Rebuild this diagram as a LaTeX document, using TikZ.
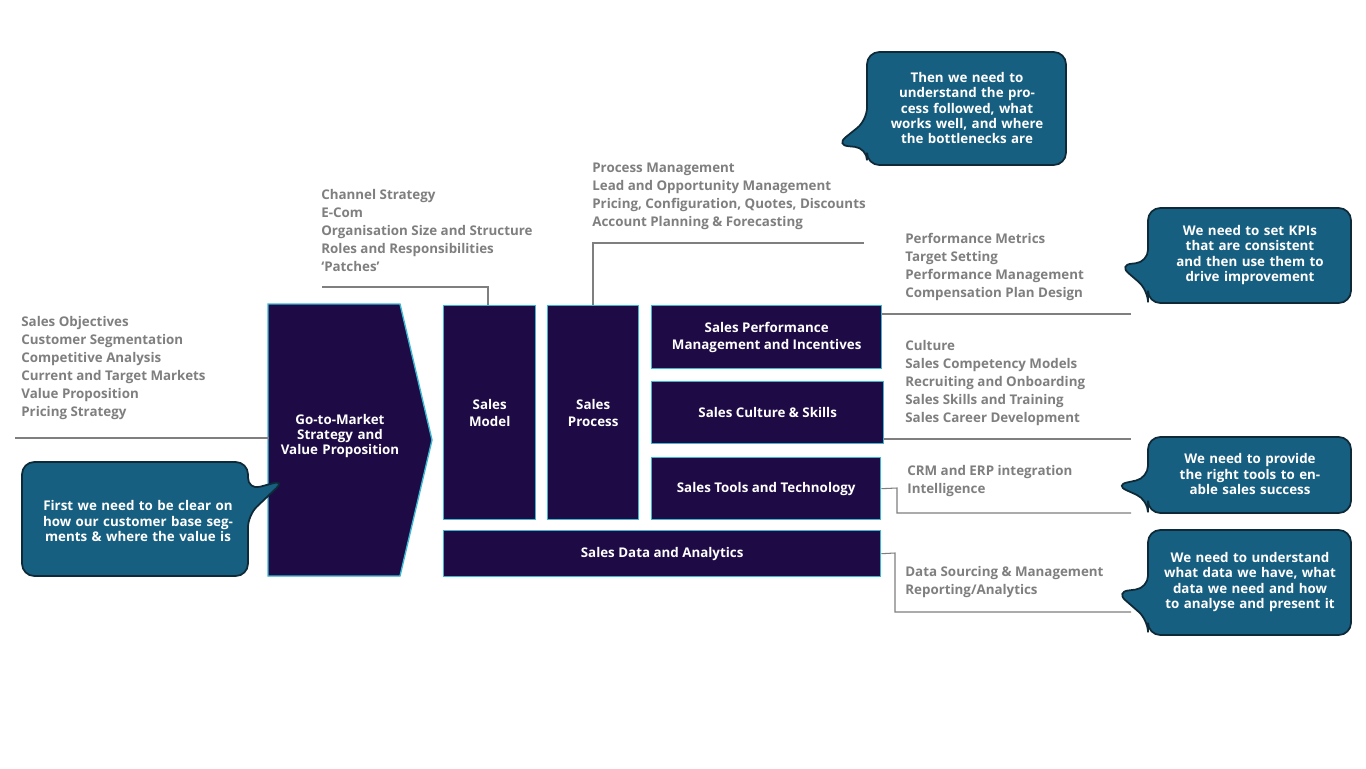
\documentclass[tikz,border=0pt]{standalone}
\usepackage{fontspec}
\setmainfont{Open Sans}
\usepackage{tikz}
\usetikzlibrary{positioning}
\definecolor{boxpurple}{HTML}{1E0A45}
\definecolor{boxcyan}{HTML}{3BB8D0}
\definecolor{calloutteal}{HTML}{175F80}
\definecolor{calloutedge}{HTML}{0E2A38}
\definecolor{listgray}{HTML}{7F7F7F}
\tikzset{
  block/.style={draw=boxcyan, fill=boxpurple, line width=0.8pt, text=white, font=\bfseries\fontsize{7.6}{9.6}\selectfont, align=center},
  list/.style={anchor=north west, inner sep=0pt, text=listgray, font=\bfseries\fontsize{7.6}{10.2}\selectfont, align=left},
  link/.style={draw=listgray, line width=0.6pt},
  callout/.style={fill=calloutteal, draw=calloutedge, line width=1pt, rounded corners=7pt},
  calltext/.style={text=white, font=\bfseries\fontsize{7.6}{8.6}\selectfont, align=center}
}
\begin{document}
\begin{tikzpicture}[x=0.02cm, y=-0.02cm]
		\useasboundingbox[fill=white] (0,0) rectangle (1366,768);
		% main blocks
		\draw[block] (268,304) -- (400,304) -- (432,440) -- (400,576) -- (268,576) -- cycle;
		\node (gtm) [calltext, text width=2.6cm] at (340,436) {Go-to-Market Strategy and Value Proposition};
		\node (model) [block, minimum width=1.84cm, minimum height=4.28cm, anchor=north west] at (443,305) {Sales\\Model};
		\node (process) [block, minimum width=1.82cm, minimum height=4.28cm, anchor=north west] at (547,305) {Sales\\Process};
		\node (perf) [block, minimum width=4.6cm, minimum height=1.26cm, anchor=north west] at (651,305) {Sales Performance\\Management and Incentives};
		\node (culture) [block, minimum width=4.64cm, minimum height=1.24cm, anchor=north west] at (651,381) {Sales Culture \& Skills};
		\node (tools) [block, minimum width=4.58cm, minimum height=1.24cm, anchor=north west] at (651,457) {Sales Tools and Technology};
		\node (data) [block, minimum width=8.74cm, minimum height=0.92cm, anchor=north west] at (443,530) {Sales Data and Analytics};
		% lists
		\node (gtmlist) [list] at (21,316) {Sales Objectives\\Customer Segmentation\\Competitive Analysis\\Current and Target Markets\\Value Proposition\\Pricing Strategy};
		\node (modellist) [list] at (321,189) {Channel Strategy\\E-Com\\Organisation Size and Structure\\Roles and Responsibilities\\‘Patches’};
		\node (processlist) [list] at (592,163) {Process Management\\Lead and Opportunity Management\\Pricing, Configuration, Quotes, Discounts\\Account Planning \& Forecasting};
		\node (perflist) [list] at (905,233) {Performance Metrics\\Target Setting\\Performance Management\\Compensation Plan Design};
		\node (culturelist) [list] at (905,340) {Culture\\Sales Competency Models\\Recruiting and Onboarding\\Sales Skills and Training\\Sales Career Development};
		\node (toolslist) [list] at (907,465) {CRM and ERP integration\\Intelligence};
		\node (datalist) [list] at (905,566) {Data Sourcing \& Management\\Reporting/Analytics};
		% connectors
		\coordinate (gtmend) at (15,438);
		\draw[link] (gtmend) -- (gtmend -| gtm.west) -- (268,438);
		\coordinate (modelend) at (322,287);
		\draw[link] (modelend) -- (488,287) -- (model.north -| 488,0);
		\coordinate (processend) at (864,243);
		\draw[link] (process.north -| 593,0) -- (593,243) -- (processend);
		\coordinate (perfend) at (1131,314);
		\draw[link] (perf.east |- perfend) -- (perfend);
		\coordinate (cultureend) at (1131,439);
		\draw[link] (culture.east |- cultureend) -- (cultureend);
		\coordinate (toolsend) at (1131,513);
		\draw[link] (tools.east) -- (897,488) -- (897,513) -- (toolsend);
		\coordinate (dataend) at (1131,612);
		\draw[link] (data.east) -- (895,553) -- (895,612) -- (dataend);
		% callouts
		\draw[callout] (867,52) -- (1066,52) -- (1066,165) -- (867,165) -- (867,148) -- (836,145) -- (867,120) -- cycle;
		\node (process_note) [calltext, text width=3.3cm] at (967,108) {Then we need to understand the process followed, what works well, and where the bottlenecks are};
		\draw[callout] (1148,208) -- (1351,208) -- (1351,303) -- (1148,303) -- (1148,290) -- (1119,265) -- (1148,262) -- cycle;
		\node (perf_note) [calltext, text width=3.6cm] at (1250,255) {We need to set KPIs that are consistent and then use them to drive improvement};
		\draw[callout] (1148,437) -- (1351,437) -- (1351,513) -- (1148,513) -- (1148,500) -- (1115,485) -- (1148,478) -- cycle;
		\node (tools_note) [calltext, text width=3.6cm] at (1250,474) {We need to provide the right tools to enable sales success};
		\draw[callout] (1148,530) -- (1351,530) -- (1351,635) -- (1148,635) -- (1148,620) -- (1116,592) -- (1148,588) -- cycle;
		\node (data_note) [calltext, text width=3.6cm] at (1250,582) {We need to understand what data we have, what data we need and how to analyse and present it};
		\draw[callout] (22,462) -- (248,462) -- (248,490) -- (285,480) -- (248,515) -- (248,576) -- (22,576) -- cycle;
		\node (gtm_note) [calltext, text width=3.8cm] at (138,521) {First we need to be clear on how our customer base segments \& where the value is};
\end{tikzpicture}
\end{document}
